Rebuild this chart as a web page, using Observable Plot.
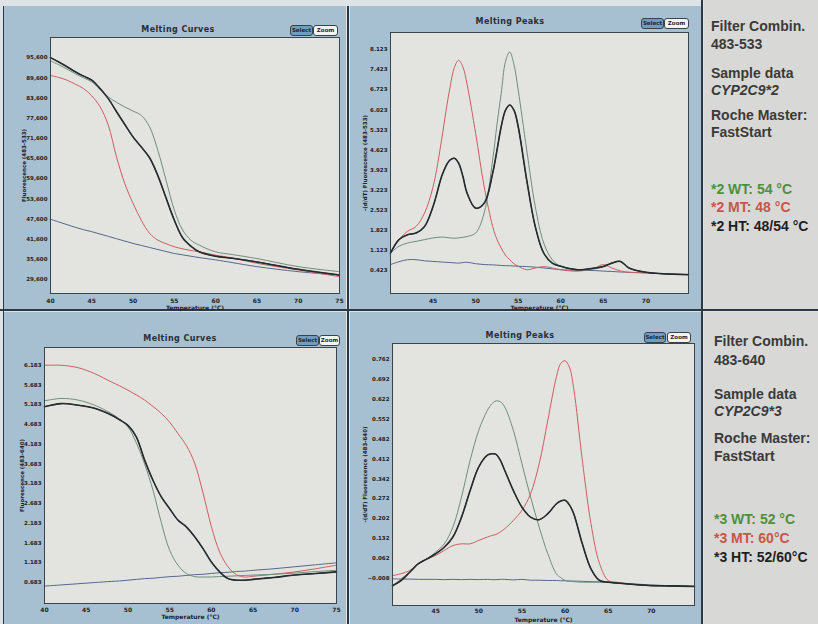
<!DOCTYPE html>
<html>
<head>
<meta charset="utf-8">
<script src="https://cdn.jsdelivr.net/npm/d3@7"></script>
<script src="https://cdn.jsdelivr.net/npm/@observablehq/plot@0.6"></script>
<style>
  html, body { margin: 0; padding: 0; }
  body { width: 818px; height: 624px; position: relative; overflow: hidden; background: #dde3e6; font-family: "DejaVu Sans", sans-serif; }
  .blk { position: absolute; }
  .blue { background: #a6bfd1; }
  .side { background: #d8d8d6; }
  .line { position: absolute; background: #2c3843; }
  .ttl { position: absolute; font: bold 8px "DejaVu Sans", sans-serif; color: #2a2f36; letter-spacing: 0.4px; transform: translateX(-50%); white-space: nowrap; }
  .btn { position: absolute; font: bold 5.5px "DejaVu Sans", sans-serif; height: 9px; line-height: 9px; border: 1px solid #39424c; border-radius: 3px; text-align: center; color: #1d2630; }
  .sel { background: #6f9dc0; }
  .zm { background: #f3f3f0; }
  .chart { position: absolute; overflow: visible; }
  .chart svg { overflow: visible; }
  .tx { position: absolute; font: bold 14px "Liberation Sans", Arial, sans-serif; color: #3a3a3a; white-space: nowrap; line-height: 16px; }
  .it { font-style: italic; }
  .g { color: #4f8f3e; }
  .r { color: #c7554b; }
  .k { color: #1f1f1f; }
</style>
</head>
<body>
<div class="blk blue" style="left:4px;top:6px;width:342px;height:303px"></div>
<div class="blk blue" style="left:350px;top:6px;width:351px;height:303px"></div>
<div class="blk blue" style="left:4px;top:312px;width:342px;height:312px"></div>
<div class="blk blue" style="left:350px;top:312px;width:351px;height:312px"></div>
<div class="blk side" style="left:704px;top:0px;width:114px;height:309px"></div>
<div class="blk side" style="left:704px;top:312px;width:114px;height:312px"></div>
<div class="line" style="left:0;top:309px;width:818px;height:2px"></div>
<div class="line" style="left:347px;top:6px;width:2px;height:618px"></div>
<div class="line" style="left:701px;top:0px;width:2px;height:624px"></div>
<div class="line" style="left:3px;top:6px;width:1px;height:618px"></div>

<div class="ttl" style="left:178px;top:25px">Melting Curves</div>
<div class="btn sel" style="left:290px;top:25px;width:21px">Select</div>
<div class="btn zm" style="left:313px;top:25px;width:23px">Zoom</div>

<div class="ttl" style="left:510px;top:17px">Melting Peaks</div>
<div class="btn sel" style="left:641px;top:18px;width:21px">Select</div>
<div class="btn zm" style="left:664px;top:18px;width:23px">Zoom</div>

<div class="ttl" style="left:180px;top:334px">Melting Curves</div>
<div class="btn sel" style="left:296px;top:335px;width:21px">Select</div>
<div class="btn zm" style="left:319px;top:335px;width:19px">Zoom</div>

<div class="ttl" style="left:520px;top:331px">Melting Peaks</div>
<div class="btn sel" style="left:644px;top:332px;width:20px">Select</div>
<div class="btn zm" style="left:667px;top:332px;width:22px">Zoom</div>

<div id="tl" class="chart" style="left:8px;top:8px"></div>
<div id="tr" class="chart" style="left:350px;top:8px"></div>
<div id="bl" class="chart" style="left:8px;top:314px"></div>
<div id="br" class="chart" style="left:350px;top:314px"></div>

<div class="tx" style="left:711px;top:18px">Filter Combin.</div>
<div class="tx" style="left:711px;top:36px">483-533</div>
<div class="tx" style="left:711px;top:65px">Sample data</div>
<div class="tx it" style="left:711px;top:82px">CYP2C9*2</div>
<div class="tx" style="left:711px;top:107px">Roche Master:</div>
<div class="tx" style="left:711px;top:124px">FastStart</div>
<div class="tx g" style="left:711px;top:181px">*2 WT: 54 °C</div>
<div class="tx r" style="left:711px;top:199px">*2 MT: 48 °C</div>
<div class="tx k" style="left:711px;top:218px">*2 HT: 48/54 °C</div>

<div class="tx" style="left:714px;top:333px">Filter Combin.</div>
<div class="tx" style="left:714px;top:352px">483-640</div>
<div class="tx" style="left:714px;top:386px">Sample data</div>
<div class="tx it" style="left:714px;top:403px">CYP2C9*3</div>
<div class="tx" style="left:714px;top:430px">Roche Master:</div>
<div class="tx" style="left:714px;top:448px">FastStart</div>
<div class="tx g" style="left:714px;top:511px">*3 WT: 52 °C</div>
<div class="tx r" style="left:714px;top:530px">*3 MT: 60°C</div>
<div class="tx k" style="left:714px;top:549px">*3 HT: 52/60°C</div>

<script>
// ---------- series names & colours ----------
const seriesNames = ["NTC", "MT", "WT", "HT"];
const seriesColors = ["#56698a", "#c9605f", "#6d8f7c", "#262b30"];

// ---------- Top-left: Melting Curves 483-533 ----------
const tlTemps = [40,41,42,43,44,45,46,47,48,49,50,51,52,53,54,55,56,57,58,60,62,65,70,75];
const tlHT  = [95600,94300,92900,91400,90100,88900,86400,83400,79500,75700,72000,69000,65800,60500,53800,47200,42000,39500,37800,36500,35900,34800,32600,30900];
const tlWT  = [94600,93500,92200,90800,89600,88400,86100,83900,82300,80900,79700,78400,75000,68000,59100,50200,44300,41300,39800,37800,37000,35800,33400,31900];
const tlMT  = [90300,89700,88900,87700,86400,84200,81000,75500,66000,58100,52200,47200,43300,41300,40200,39300,38700,38200,37800,36800,36000,34400,32400,30400];
const tlNTC = [47500,46700,45900,45100,44400,43800,43100,42400,41700,41000,40300,39700,39100,38500,37900,37300,36900,36500,36100,35400,34600,33400,31900,30900];
const tlYTicks = [29600,35600,41600,47600,53600,59600,65600,71600,77600,83600,89600,95600];

// ---------- Top-right: Melting Peaks 483-533 ----------
const trTemps = [40,41,42,43,44,45,46,46.5,47,47.5,48,48.5,49,50,51,52,52.5,53,53.5,54,54.5,55,56,57,58,59,60,62,64,65,66,67,68,70,72,75];
const trMT  = [1.02,1.49,1.78,1.95,2.42,3.34,4.97,5.95,6.82,7.5,7.75,7.52,6.9,5.2,3.34,1.95,1.5,1.2,0.95,0.79,0.65,0.56,0.44,0.5,0.55,0.5,0.44,0.39,0.5,0.62,0.5,0.4,0.35,0.33,0.3,0.27];
const trWT  = [1.02,1.26,1.37,1.43,1.49,1.55,1.58,1.57,1.55,1.54,1.55,1.57,1.6,1.72,2.42,4.27,5.5,6.59,7.7,8.04,7.6,6.71,4.62,2.65,1.37,0.79,0.56,0.44,0.47,0.55,0.67,0.73,0.5,0.35,0.3,0.27];
const trHT  = [1.02,1.49,1.66,1.72,1.95,2.65,3.69,4.05,4.27,4.33,4.16,3.7,3.11,2.59,2.76,3.81,4.6,5.43,6.0,6.19,6.01,5.43,3.57,1.95,1.02,0.67,0.56,0.44,0.5,0.55,0.67,0.73,0.5,0.35,0.3,0.27];
const trNTC = [0.62,0.72,0.79,0.79,0.75,0.73,0.71,0.7,0.69,0.68,0.67,0.69,0.7,0.65,0.62,0.61,0.6,0.59,0.58,0.58,0.57,0.56,0.55,0.53,0.5,0.47,0.44,0.42,0.41,0.39,0.38,0.36,0.35,0.33,0.3,0.27];
const trYTicks = [0.423,1.123,1.823,2.523,3.223,3.923,4.623,5.323,6.023,6.723,7.423,8.123];

// ---------- Bottom-left: Melting Curves 483-640 ----------
const blTemps = [40,42,44,46,48,49,50,51,52,53,54,55,56,57,58,59,60,61,62,63,64,65,67.5,70,72.5,75];
const blMT  = [6.18,6.18,6.12,5.97,5.76,5.66,5.55,5.43,5.30,5.14,4.96,4.74,4.45,4.15,3.7,2.95,2.1,1.45,1.08,0.88,0.82,0.84,0.89,0.95,1.03,1.12];
const blWT  = [5.28,5.34,5.30,5.17,4.96,4.82,4.62,4.22,3.68,3.02,2.2,1.5,1.12,0.91,0.83,0.82,0.82,0.83,0.84,0.85,0.86,0.87,0.89,0.92,0.96,0.99];
const blHT  = [5.13,5.21,5.17,5.09,4.92,4.80,4.66,4.37,3.78,3.27,2.85,2.55,2.26,2.09,1.84,1.54,1.2,0.95,0.78,0.74,0.74,0.76,0.81,0.87,0.91,0.95];
const blNTC = [0.59,0.62,0.65,0.68,0.71,0.72,0.74,0.76,0.78,0.79,0.81,0.83,0.84,0.86,0.88,0.89,0.91,0.93,0.94,0.96,0.97,0.99,1.03,1.08,1.13,1.18];
const blYTicks = [0.683,1.183,1.683,2.183,2.683,3.183,3.683,4.183,4.683,5.183,5.683,6.183];

// ---------- Bottom-right: Melting Peaks 483-640 ----------
const brTemps = [40,41,42,43,44,45,46,47,48,49,50,51,51.5,52,52.5,53,54,55,56,57,58,59,59.5,60,60.5,61,62,63,64,65,66,68,70,72,75];
const brMT  = [0.001,0.008,0.019,0.043,0.060,0.072,0.090,0.107,0.113,0.113,0.125,0.137,0.142,0.146,0.155,0.166,0.195,0.231,0.289,0.395,0.548,0.701,0.748,0.757,0.735,0.66,0.407,0.184,0.043,-0.016,-0.022,-0.030,-0.034,-0.035,-0.037];
const brWT  = [-0.040,-0.010,0.013,0.043,0.060,0.084,0.113,0.172,0.278,0.407,0.513,0.583,0.605,0.616,0.613,0.595,0.513,0.395,0.278,0.172,0.078,0.007,-0.006,-0.016,-0.018,-0.020,-0.022,-0.022,-0.022,-0.022,-0.024,-0.030,-0.034,-0.035,-0.037];
const brHT  = [-0.034,-0.016,0.013,0.043,0.060,0.078,0.101,0.137,0.207,0.301,0.384,0.425,0.430,0.428,0.407,0.372,0.301,0.242,0.207,0.198,0.219,0.254,0.264,0.266,0.250,0.219,0.113,0.025,-0.016,-0.022,-0.025,-0.030,-0.034,-0.035,-0.037];
const brNTC = [-0.010,-0.011,-0.011,-0.012,-0.012,-0.012,-0.013,-0.012,-0.013,-0.012,-0.013,-0.012,-0.013,-0.013,-0.012,-0.012,-0.014,-0.012,-0.015,-0.015,-0.016,-0.016,-0.017,-0.017,-0.018,-0.018,-0.019,-0.020,-0.021,-0.022,-0.024,-0.028,-0.032,-0.034,-0.036];
const brYTicks = [-0.008,0.062,0.132,0.202,0.272,0.342,0.412,0.482,0.552,0.622,0.692,0.762];

const curveXTicks = [40,45,50,55,60,65,70,75];
const peakXTicks = [45,50,55,60,65,70];

function rows(temps, ntc, mt, wt, ht) {
  const cols = [ntc, mt, wt, ht];
  const out = [];
  cols.forEach((vals, j) => temps.forEach((t, i) => out.push({t, v: vals[i], k: seriesNames[j]})));
  return out;
}

function chart(o) {
  const data = rows(o.temps, o.ntc, o.mt, o.wt, o.ht);
  return Plot.plot({
    width: o.width, height: o.height,
    marginLeft: o.ml, marginRight: o.mr, marginTop: o.mt_, marginBottom: o.mb,
    style: {background: "transparent", fontFamily: "DejaVu Sans, sans-serif", fontWeight: "bold", fontSize: "6px", color: "#1c232b"},
    x: {domain: [40, 75]},
    y: {domain: o.ydom},
    color: {domain: seriesNames, range: seriesColors},
    marks: [
      Plot.frame({fill: "#e3e3df", stroke: "none"}),
      Plot.line(data, {x: "t", y: "v", z: "k", stroke: "k", strokeWidth: 1, curve: "catmull-rom"}),
      Plot.line(data.filter(d => d.k === "HT"), {x: "t", y: "v", stroke: "#262b30", strokeWidth: 1.6, curve: "catmull-rom"}),
      Plot.frame({stroke: "#3b434b", strokeWidth: 1}),
      Plot.axisX({ticks: o.xticks, tickSize: 0, tickPadding: o.xpad, tickFormat: d => String(d),
        label: "Temperature (°C)", labelAnchor: "center", labelArrow: "none", labelOffset: o.xlo, fontSize: 6}),
      Plot.axisY({ticks: o.yticks, tickSize: 0, tickPadding: 3, tickFormat: o.yfmt,
        label: o.ylabel, labelAnchor: "center", labelArrow: "none", labelOffset: o.ylo, fontSize: 5.5})
    ]
  });
}

document.getElementById("tl").append(chart({
  temps: tlTemps, ntc: tlNTC, mt: tlMT, wt: tlWT, ht: tlHT,
  width: 340, height: 304, ml: 42, mr: 9, mt_: 29, mb: 19,
  ydom: [25400, 101600], yticks: tlYTicks, yfmt: d3.format(","),
  xticks: curveXTicks, xpad: 5, xlo: 16, ylabel: "Fluorescence (483-533)", ylo: 28
}));
document.getElementById("tr").append(chart({
  temps: trTemps, ntc: trNTC, mt: trMT, wt: trWT, ht: trHT,
  width: 352, height: 304, ml: 40, mr: 14, mt_: 24, mb: 19,
  ydom: [-0.39, 8.72], yticks: trYTicks, yfmt: d3.format(".3f"),
  xticks: peakXTicks, xpad: 5, xlo: 16, ylabel: "-(d/dT) Fluorescence (483-533)", ylo: 27
}));
document.getElementById("bl").append(chart({
  temps: blTemps, ntc: blNTC, mt: blMT, wt: blWT, ht: blHT,
  width: 340, height: 306, ml: 36, mr: 12, mt_: 33, mb: 17,
  ydom: [0.15, 6.63], yticks: blYTicks, yfmt: d3.format(".3f"),
  xticks: curveXTicks, xpad: 4, xlo: 15, ylabel: "Fluorescence (483-640)", ylo: 24
}));
document.getElementById("br").append(chart({
  temps: brTemps, ntc: brNTC, mt: brMT, wt: brWT, ht: brHT,
  width: 352, height: 306, ml: 42, mr: 8, mt_: 29, mb: 15,
  ydom: [-0.104, 0.818], yticks: brYTicks, yfmt: d3.format(".3f"),
  xticks: peakXTicks, xpad: 3, xlo: 16, ylabel: "-(d/dT) Fluorescence (483-640)", ylo: 29
}));
</script>
</body>
</html>
